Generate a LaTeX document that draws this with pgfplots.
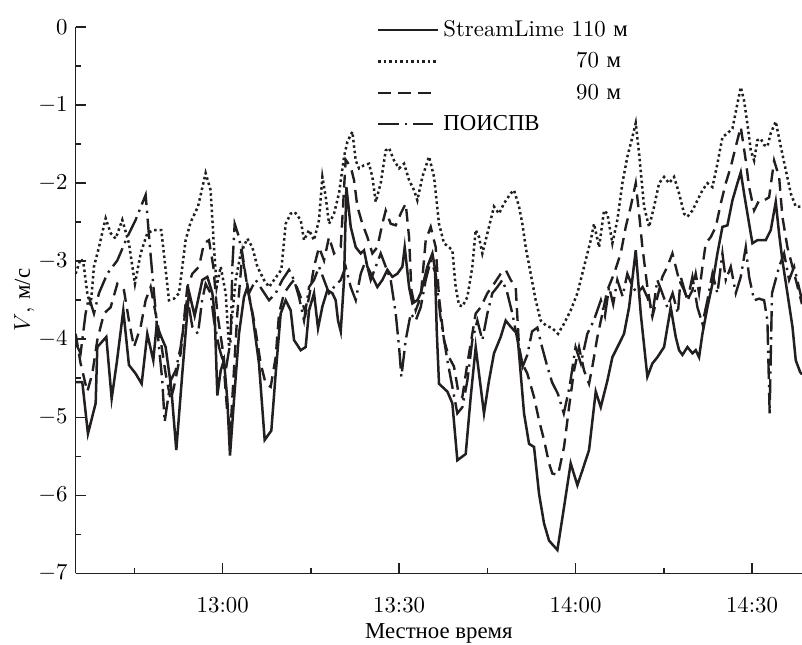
\documentclass[border=0pt]{standalone}
\usepackage{fontspec}
\usepackage{pgfplots}
\pgfplotsset{compat=1.18}
\newfontfamily\cyr{Liberation Serif}
\definecolor{ink}{RGB}{35,31,32}

% time in minutes after 12:00, V in m/s
\pgfplotstableread{
t v
35.0 -4.55
36.13 -4.55
37.09 -5.21
38.40 -4.82
38.68 -4.10
40.21 -3.97
41.12 -4.76
41.97 -4.31
43.10 -3.63
44.06 -4.33
45.20 -4.44
46.22 -4.57
47.18 -3.93
48.20 -4.27
48.77 -3.82
49.56 -3.97
50.30 -4.10
51.26 -4.63
52.11 -5.42
53.13 -4.44
54.27 -3.39
55.23 -3.70
56.54 -3.24
57.39 -3.20
58.24 -3.41
58.63 -3.67
59.09 -4.72
59.66 -4.40
60.22 -4.27
60.79 -4.78
61.24 -5.49
61.92 -4.78
62.77 -3.93
63.62 -3.46
64.19 -3.33
65.04 -3.67
66.17 -4.31
67.14 -5.29
68.27 -5.17
69.01 -4.44
69.86 -3.67
70.71 -3.50
71.56 -3.63
72.13 -4.01
73.26 -4.14
74.11 -4.10
74.68 -3.63
75.53 -3.41
76.21 -3.86
76.95 -3.58
77.80 -3.37
78.65 -3.41
79.21 -3.50
79.61 -3.76
80.07 -3.90
80.63 -3.24
81.03 -2.05
81.77 -2.56
82.62 -2.82
83.47 -2.90
84.03 -2.86
84.60 -3.07
85.45 -3.20
86.30 -3.33
87.15 -3.24
88.00 -3.11
88.85 -3.20
89.70 -3.16
90.55 -3.07
90.95 -2.82
91.69 -3.33
92.25 -3.54
93.10 -3.50
93.67 -3.41
94.80 -3.07
95.66 -2.90
96.10 -3.10
96.40 -3.90
96.78 -4.57
98.20 -4.67
99.05 -4.82
99.90 -5.55
101.32 -5.47
102.17 -4.74
103.02 -4.10
104.43 -4.95
105.28 -4.53
106.13 -4.18
107.27 -3.97
108.12 -3.76
108.97 -3.84
110.10 -3.93
111.24 -4.95
112.09 -5.34
112.94 -5.38
113.79 -5.98
114.64 -6.36
115.49 -6.58
116.91 -6.70
118.04 -6.15
119.17 -5.59
120.31 -5.87
121.16 -5.68
122.29 -5.42
123.43 -4.67
124.28 -4.87
125.41 -4.53
126.26 -4.23
127.39 -4.06
128.24 -3.93
129.10 -3.59
130.23 -2.86
131.08 -3.67
132.21 -4.48
133.06 -4.31
133.91 -4.23
135.05 -4.10
136.18 -3.59
137.03 -3.97
137.60 -4.14
138.17 -4.20
139.02 -4.10
139.87 -4.18
140.43 -4.14
141.00 -4.23
141.57 -3.93
142.42 -3.59
143.27 -3.29
144.12 -2.90
144.97 -2.56
145.82 -2.54
146.67 -2.22
147.52 -2.00
148.09 -1.86
148.65 -2.13
149.51 -2.52
150.07 -2.77
150.92 -2.73
151.77 -2.73
152.34 -2.73
153.19 -2.60
154.04 -2.24
154.61 -2.65
155.17 -2.99
156.02 -3.41
156.88 -3.84
157.44 -4.27
158.18 -4.42
158.5 -4.45
}\stlA

\pgfplotstableread{
t v
35.0 -3.16
35.84 -2.97
36.30 -3.01
36.98 -3.41
37.54 -3.58
38.11 -3.07
38.96 -2.82
40.10 -2.45
40.95 -2.64
41.80 -2.71
42.93 -2.47
44.06 -2.77
45.08 -3.29
46.05 -2.90
47.18 -2.64
48.32 -2.60
49.56 -2.60
50.87 -3.50
51.72 -3.48
52.57 -3.41
53.70 -2.73
54.55 -2.50
55.80 -2.30
57.10 -1.87
57.95 -2.09
58.52 -2.82
58.97 -3.33
59.66 -3.07
60.51 -3.41
61.07 -4.10
61.64 -3.67
62.21 -3.24
63.06 -2.90
64.19 -2.71
65.04 -2.82
65.89 -3.07
67.02 -3.24
67.88 -3.33
68.73 -3.24
69.97 -3.11
70.71 -2.52
71.56 -2.39
72.24 -2.37
73.26 -2.47
73.83 -2.73
74.68 -2.60
75.53 -2.73
76.38 -2.47
76.95 -1.92
77.51 -2.17
78.08 -2.52
78.93 -2.39
79.78 -2.13
80.63 -1.66
81.20 -1.47
82.05 -1.34
82.62 -1.71
83.18 -1.81
84.03 -1.77
84.88 -1.75
85.45 -1.92
86.02 -2.24
86.87 -2.00
87.72 -1.58
88.29 -1.55
89.14 -1.71
89.99 -1.81
90.84 -1.75
91.69 -1.96
92.54 -2.09
93.10 -2.22
93.95 -1.92
95.09 -1.66
95.94 -1.92
96.78 -2.52
97.63 -2.77
98.48 -2.82
99.05 -2.86
99.61 -3.33
100.18 -3.56
100.75 -3.58
101.60 -3.46
102.45 -3.07
103.02 -2.60
103.58 -2.69
104.15 -2.90
104.72 -2.73
105.57 -2.47
106.13 -2.30
106.98 -2.39
107.83 -2.26
108.97 -2.13
109.54 -2.09
110.39 -2.30
110.95 -2.52
111.52 -2.82
112.37 -3.16
113.22 -3.50
114.07 -3.76
114.92 -3.82
116.05 -3.86
117.02 -3.93
118.04 -3.80
119.17 -3.63
120.31 -3.41
121.44 -3.07
122.58 -2.73
123.14 -2.52
124.00 -2.82
124.84 -2.35
125.41 -2.39
126.26 -2.77
127.11 -2.47
127.96 -2.00
128.81 -1.66
129.66 -1.41
130.23 -1.23
130.80 -1.62
131.65 -2.30
132.50 -2.56
133.35 -2.30
134.20 -2.00
135.05 -1.92
135.90 -2.00
136.75 -1.92
137.60 -2.13
138.45 -2.39
139.02 -2.43
139.87 -2.35
140.72 -2.22
141.57 -2.09
142.42 -2.00
143.27 -2.05
144.12 -1.75
144.97 -1.41
145.82 -1.36
146.67 -1.30
147.52 -0.98
148.09 -0.77
148.65 -0.94
149.22 -1.24
149.79 -1.58
150.36 -1.71
150.92 -1.45
151.49 -1.43
152.06 -1.51
152.62 -1.53
153.19 -1.36
154.04 -1.21
154.89 -1.53
155.74 -1.83
156.59 -2.13
157.44 -2.30
158.5 -2.30
}\stlB

\pgfplotstableread{
t v
35.0 -3.93
35.84 -4.31
36.98 -4.67
37.83 -4.44
38.68 -4.01
39.81 -3.67
40.95 -3.59
42.08 -3.29
43.21 -3.37
44.06 -3.76
44.91 -4.10
46.05 -3.84
46.90 -3.50
47.75 -3.33
48.60 -3.67
49.45 -4.01
50.30 -4.44
51.15 -4.78
51.72 -4.61
52.85 -4.18
53.98 -3.33
54.84 -3.16
55.97 -3.07
56.82 -2.77
57.67 -2.73
58.41 -3.07
59.09 -3.67
59.94 -4.10
60.79 -4.95
61.36 -5.12
61.81 -4.53
62.49 -3.67
63.34 -2.90
64.19 -3.33
65.32 -3.76
66.46 -4.31
67.31 -4.57
68.16 -4.61
69.01 -4.23
69.58 -3.67
70.43 -3.41
71.56 -3.29
72.13 -3.24
73.26 -3.46
74.11 -3.67
74.68 -3.46
75.53 -3.07
76.38 -2.82
77.23 -2.99
78.08 -2.69
78.93 -2.90
80.07 -2.82
80.91 -1.70
81.77 -1.79
82.33 -1.96
82.90 -2.30
83.75 -2.52
84.60 -2.69
85.45 -2.90
86.30 -2.82
87.15 -2.52
87.72 -2.35
88.57 -2.52
89.42 -2.54
90.27 -2.39
91.12 -2.26
91.69 -2.69
92.08 -3.37
92.82 -3.63
93.67 -3.46
94.52 -2.73
95.37 -2.56
96.22 -2.82
96.78 -3.46
97.63 -4.01
98.48 -4.23
99.33 -4.35
100.01 -4.65
100.75 -4.74
101.60 -4.31
103.02 -3.67
103.87 -3.59
105.00 -3.41
106.13 -3.29
107.27 -3.16
108.12 -3.11
108.97 -3.24
109.82 -3.33
110.39 -4.10
110.95 -4.31
111.80 -4.44
112.94 -4.74
113.79 -5.04
114.64 -5.29
115.49 -5.59
116.05 -5.72
117.02 -5.74
118.04 -5.38
118.89 -4.87
119.74 -4.40
120.59 -4.10
121.44 -4.40
122.29 -4.57
122.86 -4.35
123.71 -3.97
124.56 -3.67
125.41 -3.37
126.54 -3.16
127.68 -2.90
128.53 -2.56
129.38 -2.30
130.23 -2.00
130.80 -2.39
131.36 -2.82
132.21 -3.33
133.06 -3.71
133.91 -3.46
134.76 -3.20
135.61 -3.07
136.46 -2.90
137.60 -3.24
138.45 -3.37
139.02 -3.50
139.87 -3.37
140.43 -3.16
141.00 -3.41
141.57 -3.07
142.14 -2.77
142.99 -2.69
143.84 -2.56
144.69 -2.26
145.54 -2.00
146.39 -1.79
147.24 -1.53
148.09 -1.28
148.94 -1.71
149.51 -2.05
150.36 -2.35
151.21 -2.22
152.06 -2.22
152.91 -2.18
153.76 -1.71
154.61 -1.92
155.17 -2.43
156.02 -2.82
156.88 -3.07
158.5 -3.55
}\stlC

\pgfplotstableread{
t v
35.0 -4.05
35.84 -4.18
36.69 -3.67
37.26 -3.46
38.11 -3.67
38.96 -3.41
40.38 -3.16
42.08 -2.99
43.78 -2.69
45.20 -2.47
46.90 -2.15
47.63 -2.82
48.32 -3.41
49.17 -4.10
49.73 -4.53
50.13 -5.06
51.15 -4.53
52.00 -4.40
52.85 -4.10
53.98 -3.46
54.84 -3.84
55.80 -3.93
56.50 -3.50
57.10 -3.29
57.95 -3.41
58.52 -3.76
59.37 -4.10
60.51 -4.40
61.36 -4.01
61.64 -3.07
62.04 -2.52
62.77 -2.69
63.62 -3.07
64.47 -3.41
65.61 -3.24
66.74 -3.37
67.88 -3.50
69.01 -3.41
70.14 -3.24
71.28 -3.11
72.13 -3.24
72.98 -3.46
73.83 -3.76
74.68 -3.33
75.53 -3.24
76.38 -3.07
77.23 -3.24
78.08 -3.41
78.93 -3.33
80.07 -3.24
80.91 -3.07
81.77 -3.33
82.62 -3.50
83.47 -3.16
84.32 -2.99
85.17 -3.24
86.02 -3.07
86.87 -2.90
87.72 -3.07
88.57 -3.24
89.42 -3.67
89.99 -4.10
90.38 -4.48
91.12 -4.01
91.97 -3.67
92.82 -3.76
93.67 -3.59
94.52 -3.24
95.37 -2.99
96.22 -3.16
97.00 -3.70
98.20 -4.27
99.05 -4.61
99.90 -4.95
100.75 -4.87
101.60 -4.53
102.45 -4.01
103.30 -3.76
104.15 -4.01
105.00 -3.67
105.85 -3.41
106.70 -3.33
107.55 -3.24
108.40 -3.41
109.25 -3.67
110.10 -4.00
111.00 -4.35
111.80 -4.20
112.60 -3.90
113.50 -3.85
114.30 -4.10
115.20 -4.35
116.00 -4.55
117.00 -4.70
118.00 -4.95
119.00 -4.60
120.00 -4.10
120.90 -4.31
122.00 -3.93
123.10 -3.76
124.30 -3.50
125.00 -3.70
125.70 -3.33
126.40 -3.55
127.10 -3.24
128.00 -3.45
128.80 -3.16
129.70 -3.33
130.50 -3.41
131.40 -3.33
132.20 -3.46
133.10 -3.67
133.90 -3.24
134.70 -3.40
135.60 -3.59
136.50 -3.41
137.40 -3.67
137.88 -3.20
139.02 -3.50
139.87 -3.20
140.72 -3.59
141.57 -3.80
142.42 -3.50
143.27 -3.16
144.12 -3.41
144.97 -2.90
145.54 -3.24
146.39 -3.07
147.24 -3.41
148.09 -3.20
148.94 -2.82
149.51 -3.20
150.36 -3.50
151.21 -3.48
152.06 -3.50
152.62 -3.76
153.00 -4.95
153.40 -3.41
154.61 -3.07
155.46 -2.90
156.31 -3.24
157.16 -3.07
158.5 -3.50
}\stlD

\begin{document}
\begin{tikzpicture}
\begin{axis}[
  width=318.7pt, height=239.7pt, scale only axis,
  xmin=35, xmax=158.5, ymin=-7, ymax=0,
  axis x line=bottom, axis y line=left,
  axis line style={-, line width=0.7pt, ink},
  tick align=inside,
  major tick length=4.4pt, minor tick length=2.4pt,
  every tick/.style={line width=0.7pt, ink},
  xtick={60,90,120,150},
  xticklabels={\mbox{13:00},\mbox{13:30},\mbox{14:00},\mbox{14:30}},
  minor xtick={45,75,105,135},
  ytick={-7,-6,-5,-4,-3,-2,-1,0},
  minor ytick={-6.5,-5.5,-4.5,-3.5,-2.5,-1.5,-0.5},
  xticklabel style={yshift=-7pt},
  xlabel={\cyr Местное время},
  xlabel style={yshift=2.5pt},
  ylabel={$V$, {\cyr м/с}},
  ylabel style={yshift=-5pt},
  legend style={at={(rel axis cs:0.405,1.03)}, anchor=north west,
                draw=none, fill=none, row sep=1.3pt, font=\normalsize},
  legend cell align=left,
  legend image code/.code={\draw[#1] (0pt,0pt) -- (26pt,0pt);},
  clip=true,
]
\addplot[ink, line width=1.1pt] table {\stlA};
\addlegendentry{StreamLime 110 {\cyr м}}
\addplot[ink, line width=1.1pt, dash pattern=on 1.1pt off 1.3pt] table {\stlB};
\addlegendentry{\phantom{StreamLime }\hspace{2pt}70 {\cyr м}}
\addplot[ink, line width=1.05pt, dash pattern=on 5.6pt off 3.2pt] table {\stlC};
\addlegendentry{\phantom{StreamLime }\hspace{2pt}90 {\cyr м}}
\addplot[ink, line width=1.05pt, dash pattern=on 9pt off 2.5pt on 1pt off 2.5pt] table {\stlD};
\addlegendentry{\cyr ПОИСПВ}
\end{axis}
\pgfresetboundingbox
\path (current axis.south west) ++(-33.2pt,-31.2pt) rectangle ([yshift=11.9pt]current axis.north east);
\end{tikzpicture}
\end{document}
